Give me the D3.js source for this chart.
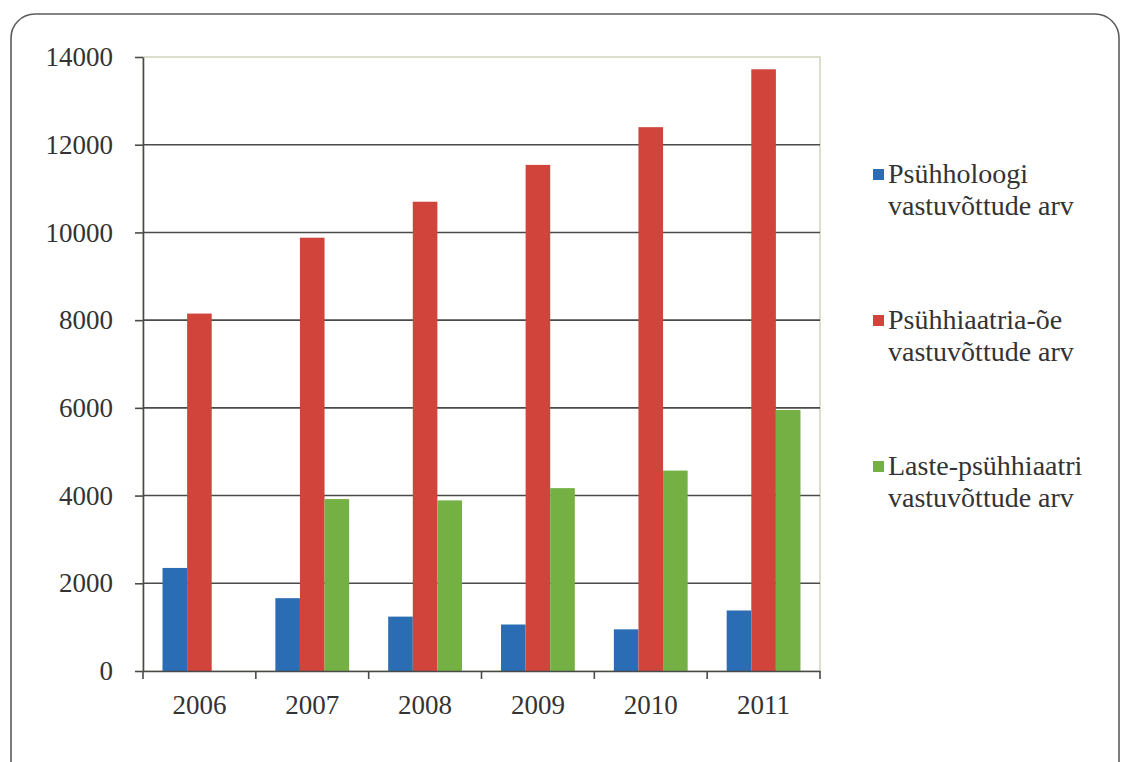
<!DOCTYPE html>
<html>
<head>
<meta charset="utf-8">
<script src="https://cdn.jsdelivr.net/npm/d3@7"></script>
<style>
  body { margin: 0; background: #fff; }
  svg text { font-family: 'Liberation Serif', 'DejaVu Serif', serif; }
</style>
</head>
<body>
<div id="chart"></div>
<script>
// visits per year, three services
const years = ['2006', '2007', '2008', '2009', '2010', '2011'];
const psyhholoogi = [2350, 1660, 1240, 1060, 950, 1380];
const psyhhiaatriaOe = [8150, 9880, 10700, 11540, 12400, 13720];
const lastePsyhhiaatri = [0, 3920, 3890, 4170, 4570, 5950];
const seriesNames = [
    ['Psühholoogi', 'vastuvõttude arv'],
    ['Psühhiaatria-õe', 'vastuvõttude arv'],
    ['Laste-psühhiaatri', 'vastuvõttude arv']
];
const seriesColors = ['#2a6db4', '#d0443b', '#74b044'];
const yTicks = [0, 2000, 4000, 6000, 8000, 10000, 12000, 14000];

const width = 1123, height = 762;
const margin = {left: 143, right: 303, top: 57, bottom: 91};
const serif = "'Liberation Serif', 'DejaVu Serif', serif";
const inkColor = '#333';

const series = [psyhholoogi, psyhhiaatriaOe, lastePsyhhiaatri];
const rows = years.map((y, i) => ({year: y, values: series.map((s) => s[i])}));

const svg = d3.select('#chart')
    .append('svg')
    .attr('width', width)
    .attr('height', height);

// outer frame with rounded corners, runs off the bottom edge
svg.append('rect')
    .attr('x', 11)
    .attr('y', 14)
    .attr('width', 1108)
    .attr('height', 790)
    .attr('rx', 24)
    .attr('fill', 'none')
    .attr('stroke', '#5c5c5c')
    .attr('stroke-width', 1.6);

const plotW = width - margin.left - margin.right;
const plotH = height - margin.top - margin.bottom;

const x0 = d3.scaleBand().domain(years).range([0, plotW]);
const x1 = d3.scaleBand().domain([0, 1, 2])
    .range([x0.bandwidth() * 0.173, x0.bandwidth() * 0.827]);
const y = d3.scaleLinear().domain([0, 14000]).range([plotH, 0]);

const g = svg.append('g')
    .attr('transform', `translate(${margin.left}, ${margin.top})`);

// plot border
g.append('rect')
    .attr('width', plotW)
    .attr('height', plotH)
    .attr('fill', 'none')
    .attr('stroke', '#c9c9ad')
    .attr('stroke-width', 1.2);

// gridlines
g.selectAll('.grid')
    .data(yTicks.filter((t) => t > 0 && t < 14000))
    .enter()
    .append('line')
    .attr('class', 'grid')
    .attr('x1', 0)
    .attr('x2', plotW)
    .attr('y1', (d) => y(d))
    .attr('y2', (d) => y(d))
    .attr('stroke', '#4a4a4a')
    .attr('stroke-width', 1.6);

// bars
const groups = g.selectAll('.year')
    .data(rows)
    .enter()
    .append('g')
    .attr('class', 'year')
    .attr('transform', (d) => `translate(${x0(d.year)}, 0)`);
groups.selectAll('rect')
    .data((d) => d.values.map((v, k) => ({k: k, v: v})))
    .enter()
    .append('rect')
    .attr('x', (d) => x1(d.k))
    .attr('width', x1.bandwidth())
    .attr('y', (d) => y(d.v))
    .attr('height', (d) => plotH - y(d.v))
    .attr('fill', (d) => seriesColors[d.k]);

// y axis
const yAxisG = g.append('g')
    .call(d3.axisLeft(y).tickValues(yTicks).tickFormat(d3.format('d'))
        .tickSize(8).tickSizeOuter(0).tickPadding(22));
yAxisG.attr('font-family', null);
yAxisG.select('.domain').attr('stroke', '#4a4a4a').attr('stroke-width', 1.6);
yAxisG.selectAll('.tick line').attr('stroke', '#4a4a4a').attr('stroke-width', 1.6);
yAxisG.selectAll('.tick text')
    .attr('font-family', serif)
    .attr('font-size', 27)
    .attr('fill', inkColor);

// x axis: labels centred, ticks on band edges
const xAxisG = g.append('g')
    .attr('transform', `translate(0, ${plotH})`)
    .call(d3.axisBottom(x0).tickSize(0).tickPadding(24));
xAxisG.attr('font-family', null);
xAxisG.select('.domain').attr('stroke', '#4a4a4a').attr('stroke-width', 1.6);
xAxisG.selectAll('.tick text')
    .attr('font-family', serif)
    .attr('font-size', 27)
    .attr('fill', inkColor);
xAxisG.selectAll('.edge')
    .data(years.concat(['end']))
    .enter()
    .append('line')
    .attr('class', 'edge')
    .attr('x1', (d, i) => i * x0.bandwidth())
    .attr('x2', (d, i) => i * x0.bandwidth())
    .attr('y1', 0)
    .attr('y2', 8)
    .attr('stroke', '#4a4a4a')
    .attr('stroke-width', 1.6);

// legend
const legend = svg.append('g')
    .attr('transform', 'translate(873, 0)');
const items = legend.selectAll('.item')
    .data(seriesNames)
    .enter()
    .append('g')
    .attr('class', 'item')
    .attr('transform', (d, i) => `translate(0, ${183 + i * 146})`);
items.append('rect')
    .attr('x', 0)
    .attr('y', -14)
    .attr('width', 11)
    .attr('height', 11)
    .attr('fill', (d, i) => seriesColors[i]);
items.append('text')
    .attr('x', 15)
    .attr('y', 0)
    .attr('font-family', serif)
    .attr('font-size', 28)
    .attr('fill', inkColor)
    .text((d) => d[0]);
items.append('text')
    .attr('x', 15)
    .attr('y', 32)
    .attr('font-family', serif)
    .attr('font-size', 28)
    .attr('fill', inkColor)
    .text((d) => d[1]);
</script>
</body>
</html>
